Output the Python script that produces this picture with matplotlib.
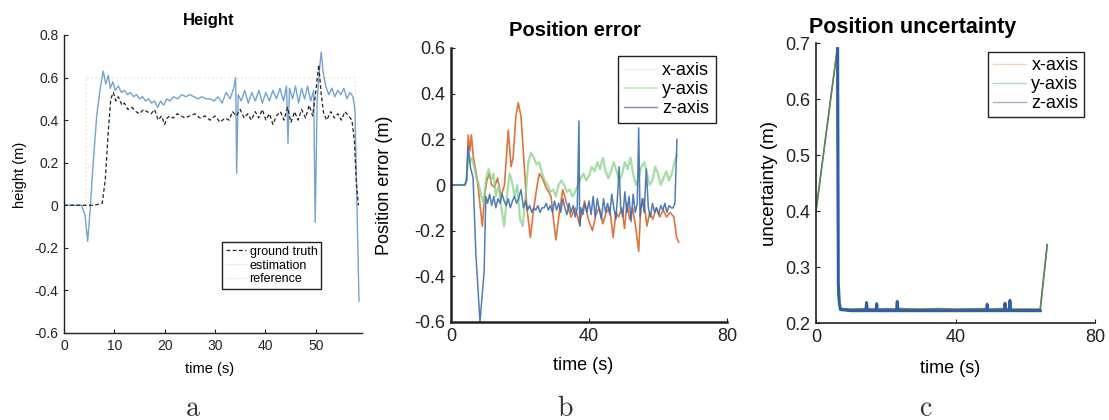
import matplotlib
matplotlib.use("Agg")
import matplotlib.pyplot as plt
from matplotlib.lines import Line2D
from matplotlib.ticker import FuncFormatter

plt.rcParams['font.family'] = ['Liberation Sans', 'DejaVu Sans']

# ---------------- Panel a: Height ----------------
t_gt = [0, 2, 4, 6, 7.6, 8.2, 8.8, 9.3, 9.8, 10.3,
        10.8, 11.5, 12, 12.7, 13.5, 14.3, 15, 15.8, 16.5, 17.3,
        18, 18.7, 19.4, 20, 20.5, 21, 21.7, 22.5, 23.3, 24,
        25, 26, 27, 28, 29, 30, 31, 32, 32.8, 33.5,
        34.2, 35, 35.8, 36.5, 37.2, 38, 38.7, 39.4, 40.1, 40.8,
        41.5, 42.2, 43, 43.7, 44.4, 45.1, 45.8, 46.5, 47.2, 48,
        48.7, 49.4, 50.1, 50.6, 51.1, 51.6, 52.2, 53, 53.7, 54.4,
        55.1, 55.8, 56.5, 57.2, 57.7, 58.1, 58.5]
h_gt = [0, 0, 0, 0, 0.01, 0.12, 0.35, 0.5, 0.53, 0.49,
        0.51, 0.47, 0.48, 0.45, 0.46, 0.44, 0.43, 0.45, 0.44, 0.43,
        0.45, 0.40, 0.42, 0.38, 0.41, 0.42, 0.41, 0.43, 0.42, 0.41,
        0.42, 0.43, 0.41, 0.42, 0.40, 0.42, 0.39, 0.41, 0.40, 0.44,
        0.42, 0.45, 0.41, 0.43, 0.40, 0.44, 0.41, 0.45, 0.40, 0.43,
        0.38, 0.42, 0.44, 0.40, 0.46, 0.39, 0.44, 0.40, 0.45, 0.41,
        0.47, 0.42, 0.55, 0.66, 0.52, 0.43, 0.40, 0.44, 0.41, 0.43,
        0.40, 0.44, 0.42, 0.40, 0.30, 0.10, 0.0]

t_est = [0, 2, 3.5, 4.2, 4.7, 5.2, 5.8, 6.5, 7.2, 7.8,
         8.3, 8.8, 9.2, 9.7, 10.2, 10.8, 11.4, 12, 12.6, 13.2,
         13.8, 14.4, 15, 15.6, 16.2, 16.8, 17.4, 18, 18.6, 19.2,
         19.8, 20.4, 21, 21.8, 22.6, 23.4, 24.2, 25, 25.8, 26.6,
         27.4, 28.2, 29, 29.8, 30.6, 31.4, 32.2, 33, 33.7, 34.1,
         34.3, 34.6, 35.2, 35.9, 36.6, 37.3, 38, 38.7, 39.4, 40.1,
         40.8, 41.5, 42.2, 42.9, 43.6, 44.2, 44.5, 44.8, 45.4, 46,
         46.6, 47.2, 47.8, 48.4, 49, 49.6, 49.9, 50.3, 50.8, 51.1,
         51.5, 52, 52.6, 53.2, 53.8, 54.4, 55, 55.6, 56.2, 56.8,
         57.4, 57.8, 58.2, 58.6]
h_est = [0, 0, 0, -0.05, -0.17, -0.02, 0.2, 0.42, 0.55, 0.63,
         0.57, 0.61, 0.55, 0.58, 0.54, 0.56, 0.53, 0.54, 0.52, 0.53,
         0.51, 0.52, 0.50, 0.51, 0.49, 0.50, 0.48, 0.49, 0.46, 0.49,
         0.47, 0.50, 0.49, 0.51, 0.50, 0.52, 0.51, 0.52, 0.51, 0.50,
         0.51, 0.50, 0.50, 0.49, 0.51, 0.48, 0.53, 0.50, 0.55, 0.60,
         0.15, 0.52, 0.49, 0.54, 0.48, 0.53, 0.49, 0.54, 0.48, 0.53,
         0.49, 0.54, 0.50, 0.55, 0.49, 0.56, 0.29, 0.55, 0.50, 0.56,
         0.48, 0.55, 0.50, 0.56, 0.49, 0.54, -0.08, 0.50, 0.65, 0.72,
         0.62, 0.56, 0.52, 0.55, 0.51, 0.54, 0.52, 0.55, 0.50, 0.53,
         0.51, 0.45, 0.0, -0.45]

t_ref = [0, 4.3, 4.3, 57.8, 57.8, 58.6]
h_ref = [0, 0, 0.6, 0.6, 0, 0]

# ---------------- Panel b: Position error ----------------
t_bx = [0, 4, 4.5, 5, 5.5, 5.9, 6.5, 7.1, 7.8, 8.5,
        9.1, 9.7, 10.4, 11.1, 11.8, 12.6, 13.5, 14.5, 15.5, 16.6,
        17.4, 18.0, 18.8, 19.5, 20.3, 21.2, 22, 23, 24, 25,
        25.6, 26.5, 27.5, 28.3, 29, 29.7, 30.4, 31.4, 32.4, 33.5,
        34.8, 36, 37.2, 38, 38.7, 39.8, 41, 42, 43, 44,
        45, 46, 47, 47.8, 48.6, 49.5, 50.3, 51, 51.8, 52.6,
        53.5, 54.4, 55, 55.8, 56.8, 57.6, 58.5, 59.5, 60.5, 61.5,
        62.5, 63.5, 64.6, 65.4, 66]
e_bx = [0, 0, 0.02, 0.22, 0.15, 0.22, 0.12, 0.07, 0.0, -0.1,
        -0.18, -0.05, 0.02, 0.05, 0.0, -0.01, 0.03, -0.05, 0.0, 0.24,
        0.08, 0.12, 0.30, 0.36, 0.30, 0.09, -0.1, -0.23, -0.1, 0.0,
        0.05, 0.03, -0.01, -0.03, -0.05, -0.15, -0.24, -0.12, -0.02, -0.08,
        -0.14, -0.1, -0.17, -0.12, -0.07, -0.15, -0.2, -0.13, -0.1, -0.17,
        -0.12, -0.1, -0.23, -0.12, -0.14, -0.1, -0.19, -0.08, -0.15, -0.1,
        -0.18, -0.29, -0.1, -0.06, -0.18, -0.12, -0.15, -0.1, -0.14, -0.11,
        -0.14, -0.12, -0.14, -0.23, -0.25]

t_by = [0, 4, 4.5, 5, 5.5, 6, 6.7, 7.4, 8.1, 8.8,
        9.5, 10.2, 10.9, 11.6, 12.3, 13, 13.8, 14.6, 15.4, 16.2,
        17, 17.6, 18.4, 19.2, 20, 20.8, 21.6, 22.4, 23.2, 24,
        24.8, 25.6, 26.4, 27.2, 28, 28.8, 29.6, 30.4, 31.2, 32,
        32.8, 33.6, 34.4, 35.2, 36, 36.8, 37.6, 38.4, 39.2, 40,
        40.8, 41.6, 42.4, 43.2, 44, 44.8, 45.6, 46.4, 47.2, 48,
        48.8, 49.6, 50.4, 51.2, 52, 52.8, 53.6, 54.4, 55.2, 56,
        56.8, 57.6, 58.4, 59.2, 60, 60.8, 61.6, 62.4, 63.2, 64,
        64.8, 65.5]
e_by = [0, 0, 0.02, 0.12, 0.1, 0.12, 0.08, 0.03, 0.0, -0.05,
        -0.08, 0.03, 0.07, 0.02, 0.05, -0.05, 0.0, -0.1, -0.18, -0.05,
        0.05, 0.02, -0.05, 0.0, -0.15, -0.18, -0.05, 0.1, 0.14, 0.12,
        0.09, 0.1, 0.05, 0.02, 0.0, -0.03, -0.02, -0.05, 0.0, 0.02,
        0.0, -0.03, -0.02, -0.05, -0.03, 0.0, 0.03, 0.05, 0.02, 0.04,
        0.08, 0.06, 0.1, 0.07, 0.12, 0.06, 0.03, 0.06, 0.1, 0.06,
        0.02, 0.05, 0.1, 0.07, 0.12, 0.05, 0.0, 0.03, 0.08, 0.1,
        0.05, 0.0, 0.02, 0.08, 0.05, 0.0, 0.03, 0.06, 0.02, 0.05,
        0.1, 0.13]

t_bz = [0, 4, 4.5, 5, 5.6, 6.4, 7.2, 8.4, 9.6, 10.1,
        10.6, 11.2, 11.8, 12.4, 13, 13.6, 14.2, 14.8, 15.4, 16,
        16.6, 17.2, 17.8, 18.4, 19, 19.6, 20.3, 21, 21.6, 22.2,
        22.8, 23.4, 24, 24.6, 25.2, 25.8, 26.4, 27, 27.6, 28.2,
        28.8, 29.4, 30, 30.6, 31.2, 31.8, 32.4, 33, 33.6, 34.2,
        34.8, 35.4, 36, 36.6, 37.1, 37.3, 37.6, 38.2, 38.8, 39.4,
        40, 40.6, 41.2, 41.8, 42.4, 43, 43.6, 44.2, 44.8, 45.4,
        46, 46.6, 47.2, 47.8, 48.4, 48.7, 49.2, 49.8, 50.4, 51,
        51.6, 52.2, 52.8, 53.4, 54, 54.4, 54.8, 55.4, 56, 56.6,
        57.2, 57.8, 58.4, 59, 59.6, 60.2, 60.8, 61.4, 62, 62.6,
        63.2, 63.8, 64.4, 64.9, 65.5]
e_bz = [0, 0, 0.02, 0.17, 0.08, 0.03, -0.3, -0.6, -0.38, -0.05,
        -0.08, -0.04, -0.09, -0.05, -0.1, -0.06, -0.08, -0.04, -0.07, -0.09,
        -0.06, -0.1, -0.07, -0.05, -0.08, -0.06, -0.02, -0.1, -0.07, -0.11,
        -0.09, -0.12, -0.1, -0.11, -0.09, -0.12, -0.1, -0.1, -0.08, -0.11,
        -0.09, -0.12, -0.07, -0.11, -0.08, -0.12, -0.06, -0.1, -0.13, -0.08,
        -0.12, -0.09, -0.14, -0.1, 0.28, -0.18, -0.1, -0.13, -0.08, -0.12,
        -0.07, -0.13, -0.05, -0.14, -0.06, -0.11, -0.15, -0.06, -0.12, -0.08,
        -0.13, -0.04, -0.1, -0.15, -0.02, 0.08, -0.1, -0.14, -0.03, -0.12,
        -0.05, -0.16, -0.04, -0.12, -0.08, 0.25, -0.14, -0.06, -0.12, 0.07,
        -0.1, -0.14, -0.08, -0.12, -0.1, -0.13, -0.09, -0.11, -0.08, -0.12,
        -0.09, -0.1, -0.1, -0.08, 0.2]

# ---------------- Panel c: Position uncertainty ----------------
t_c = [0, 6.1, 6.3, 6.6, 7.0, 10, 14.3, 14.5, 14.7, 17.2,
       17.4, 17.6, 20, 23.1, 23.3, 23.5, 30, 35, 40, 48.9,
       49.1, 49.3, 53, 54.0, 54.2, 54.4, 55.4, 55.6, 55.8, 60,
       64.3, 66.3]
u_cx = [0.40, 0.69, 0.26, 0.235, 0.226, 0.225, 0.226, 0.237, 0.226, 0.225,
        0.235, 0.225, 0.226, 0.225, 0.239, 0.226, 0.225, 0.226, 0.225, 0.226,
        0.234, 0.225, 0.226, 0.225, 0.236, 0.225, 0.226, 0.241, 0.225, 0.225,
        0.225, 0.34]
u_cy = [0.40, 0.69, 0.26, 0.235, 0.226, 0.224, 0.225, 0.238, 0.225, 0.224,
        0.236, 0.224, 0.225, 0.224, 0.24, 0.225, 0.224, 0.225, 0.224, 0.225,
        0.235, 0.224, 0.225, 0.224, 0.237, 0.224, 0.225, 0.242, 0.224, 0.224,
        0.224, 0.34]
t_cz = [6.2, 6.4, 6.7, 7.0, 10, 14.3, 14.5, 14.7, 17.2, 17.4,
        17.6, 20, 23.1, 23.3, 23.5, 30, 35, 40, 48.9, 49.1,
        49.3, 53, 54.0, 54.2, 54.4, 55.4, 55.6, 55.8, 60, 64.3]
u_cz = [0.69, 0.27, 0.235, 0.224, 0.222, 0.222, 0.236, 0.222, 0.222, 0.234,
        0.222, 0.222, 0.222, 0.238, 0.222, 0.222, 0.222, 0.222, 0.222, 0.233,
        0.222, 0.222, 0.222, 0.235, 0.222, 0.222, 0.24, 0.222, 0.222, 0.222]

axis_names = ['x-axis', 'y-axis', 'z-axis']
height_names = ['ground truth', 'estimation', 'reference']

W, H = 1109, 420
fig = plt.figure(figsize=(W / 100, H / 100), dpi=100)


def box(l, t, r, b):
    return [l / W, 1 - b / H, (r - l) / W, (b - t) / H]


fmt = FuncFormatter(lambda v, p: '%g' % round(v, 6))


def style(ax, lw, fs):
    for s in ['top', 'right']:
        ax.spines[s].set_visible(False)
    for s in ['left', 'bottom']:
        ax.spines[s].set_linewidth(lw)
        ax.spines[s].set_color('#222222')
    ax.tick_params(direction='in', length=3, width=0.8, labelsize=fs,
                   colors='#222222', pad=4)
    ax.yaxis.set_major_formatter(fmt)
    ax.xaxis.set_major_formatter(fmt)


# ---- a ----
axa = fig.add_axes(box(64, 35, 362, 333))
axa.plot(t_ref, h_ref, color='#f2c98f', lw=1.2, ls=(0, (1, 1.5)), alpha=0.45)
axa.plot(t_est, h_est, color='#5b93cc', lw=1.0, alpha=0.85)
axa.plot(t_gt, h_gt, color='#222222', lw=0.9, ls=(0, (3, 2)))
axa.set_xlim(0, 59.2)
axa.set_ylim(-0.6, 0.8)
axa.set_xticks([0, 10, 20, 30, 40, 50])
axa.set_yticks([-0.6, -0.4, -0.2, 0, 0.2, 0.4, 0.6, 0.8])
style(axa, 1.0, 10)
axa.set_title('Height', fontsize=12, fontweight='bold', x=0.485, pad=7)
axa.set_xlabel('time (s)', fontsize=10.5)
axa.set_ylabel('height (m)', fontsize=10.5)
axa.xaxis.set_label_coords(0.49, -0.097)
axa.yaxis.set_label_coords(-0.124, 0.53)
ha = [Line2D([], [], color='#222222', lw=0.9, ls=(0, (3, 2))),
      Line2D([], [], color='#e6eef6', lw=1),
      Line2D([], [], color='#fbf0e0', lw=1)]
axa.legend(ha, height_names, loc='upper left',
           bbox_to_anchor=(222 / W, 1 - 242 / H), bbox_transform=fig.transFigure,
           fontsize=9, frameon=True, fancybox=False, edgecolor='#222222',
           framealpha=1, handlelength=1.6, handletextpad=0.3, borderpad=0.3,
           labelspacing=0.15, borderaxespad=0)

# ---- b ----
axb = fig.add_axes(box(451, 48, 727, 322))
axb.plot(t_bx, e_bx, color='#e0743c', lw=1.2)
axb.plot(t_by, e_by, color='#86d486', lw=1.6, alpha=0.75)
axb.plot(t_bz, e_bz, color='#3d6fae', lw=1.1, alpha=0.9)
axb.set_xlim(0, 80)
axb.set_ylim(-0.6, 0.6)
axb.set_xticks([0, 40, 80])
axb.set_yticks([-0.6, -0.4, -0.2, 0, 0.2, 0.4, 0.6])
style(axb, 1.8, 13)
axb.set_title('Position error', fontsize=14.5, fontweight='bold', x=0.45, pad=9)
axb.set_xlabel('time (s)', fontsize=13)
axb.set_ylabel('Position error (m)', fontsize=13)
axb.xaxis.set_label_coords(0.48, -0.128)
axb.yaxis.set_label_coords(-0.21, 0.5)
hb = [Line2D([], [], color='#f6ece6', lw=1),
      Line2D([], [], color='#c8e8c8', lw=1.2),
      Line2D([], [], color='#7d8da3', lw=1)]
axb.legend(hb, axis_names, loc='upper left',
           bbox_to_anchor=(618 / W, 1 - 56 / H), bbox_transform=fig.transFigure,
           fontsize=13, frameon=True, fancybox=False, edgecolor='#222222',
           framealpha=1, handlelength=1.8, handletextpad=0.3, borderpad=0.35,
           labelspacing=0.1, borderaxespad=0)

# ---- c ----
axc = fig.add_axes(box(816, 43, 1095, 323))
axc.plot(t_c, u_cx, color='#e0743c', lw=1.0)
axc.plot(t_c, u_cy, color='#4f8a62', lw=1.2)
axc.plot(t_cz, u_cz, color='#2f5fa6', lw=2.2)
axc.set_xlim(0, 80)
axc.set_ylim(0.2, 0.7)
axc.set_xticks([0, 40, 80])
axc.set_yticks([0.2, 0.3, 0.4, 0.5, 0.6, 0.7])
style(axc, 1.2, 13)
axc.set_title('Position uncertainty', fontsize=15.5, fontweight='bold', x=0.345, pad=7)
axc.set_xlabel('time (s)', fontsize=13)
axc.set_ylabel('uncertainty (m)', fontsize=13.5)
axc.xaxis.set_label_coords(0.48, -0.132)
axc.yaxis.set_label_coords(-0.136, 0.5)
hc = [Line2D([], [], color='#f3d9c3', lw=1),
      Line2D([], [], color='#b7d9bd', lw=1),
      Line2D([], [], color='#a2b0c2', lw=1)]
axc.legend(hc, axis_names, loc='upper left',
           bbox_to_anchor=(988 / W, 1 - 52 / H), bbox_transform=fig.transFigure,
           fontsize=13, frameon=True, fancybox=False, edgecolor='#222222',
           framealpha=1, handlelength=1.8, handletextpad=0.3, borderpad=0.3,
           labelspacing=0.1, borderaxespad=0)

# panel letters
for x, lab in [(193, 'a'), (565, 'b'), (925, 'c')]:
    fig.text(x / W, 1 - 416 / H, lab, ha='center', va='baseline',
             fontsize=20, family=['cmr10', 'DejaVu Serif'], color='#333333')

fig.savefig('out.png', dpi=100, facecolor='white')
